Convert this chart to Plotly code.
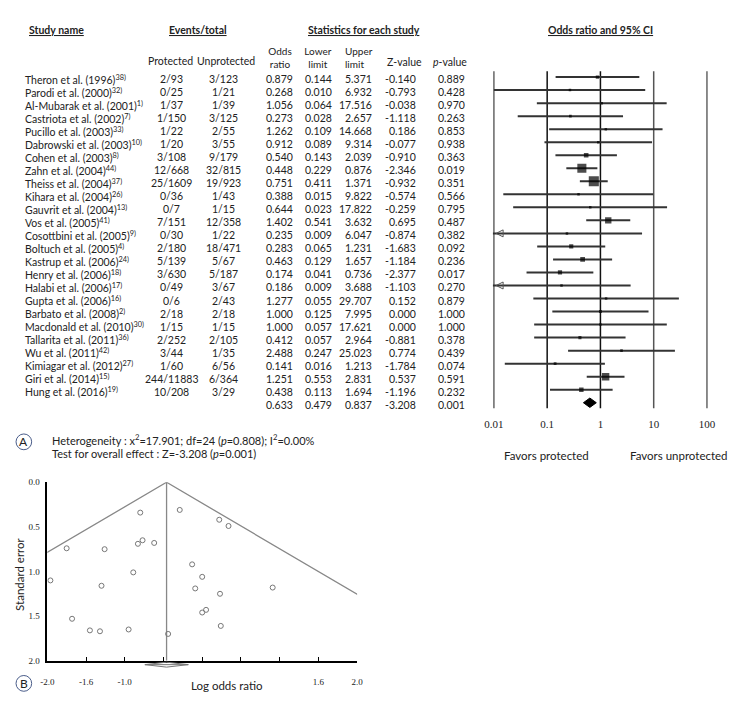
import math
import plotly.graph_objects as go

W, H = 748, 707
OFF = 8  # page body margin, positions below are in page pixels

studies = [
    "Theron et al. (1996)", "Parodi et al. (2000)", "Al-Mubarak et al. (2001)",
    "Castriota et al. (2002)", "Pucillo et al. (2003)", "Dabrowski et al. (2003)",
    "Cohen et al. (2003)", "Zahn et al. (2004)", "Theiss et al. (2004)",
    "Kihara et al. (2004)", "Gauvrit et al. (2004)", "Vos et al. (2005)",
    "Cosottbini et al. (2005)", "Boltuch et al. (2005)", "Kastrup et al. (2006)",
    "Henry et al. (2006)", "Halabi et al. (2006)", "Gupta et al. (2006)",
    "Barbato et al. (2008)", "Macdonald et al. (2010)", "Tallarita et al. (2011)",
    "Wu et al. (2011)", "Kimiagar et al. (2012)", "Giri et al. (2014)",
    "Hung et al. (2016)",
]
refs = ["38)", "32)", "1)", "7)", "33)", "10)", "8)", "44)", "37)", "26)", "13)", "41)", "9)",
        "4)", "24)", "18)", "17)", "16)", "2)", "30)", "36)", "42)", "27)", "15)", "19)"]

prot_events = [2, 0, 1, 1, 1, 1, 3, 12, 25, 0, 0, 7, 0, 2, 5, 3, 0, 0, 2, 1, 2, 3, 1, 244, 10]
prot_total = [93, 25, 37, 150, 22, 20, 108, 668, 1609, 36, 7, 151, 30, 180, 139, 630, 49, 6,
              18, 15, 252, 44, 60, 11883, 208]
unprot_events = [3, 1, 1, 3, 2, 3, 9, 32, 19, 1, 1, 12, 1, 18, 5, 5, 3, 2, 2, 1, 2, 1, 6, 6, 3]
unprot_total = [123, 21, 39, 125, 55, 55, 179, 815, 923, 43, 15, 358, 22, 471, 67, 187, 67, 43,
                18, 15, 105, 35, 56, 364, 29]

odds_ratio = [0.879, 0.268, 1.056, 0.273, 1.262, 0.912, 0.540, 0.448, 0.751, 0.388, 0.644, 1.402,
              0.235, 0.283, 0.463, 0.174, 0.186, 1.277, 1.000, 1.000, 0.412, 2.488, 0.141, 1.251, 0.438]
lower = [0.144, 0.010, 0.064, 0.028, 0.109, 0.089, 0.143, 0.229, 0.411, 0.015, 0.023, 0.541,
         0.009, 0.065, 0.129, 0.041, 0.009, 0.055, 0.125, 0.057, 0.057, 0.247, 0.016, 0.553, 0.113]
upper = [5.371, 6.932, 17.516, 2.657, 14.668, 9.314, 2.039, 0.876, 1.371, 9.822, 17.822, 3.632,
         6.047, 1.231, 1.657, 0.736, 3.688, 29.707, 7.995, 17.621, 2.964, 25.023, 1.213, 2.831, 1.694]
z_value = [-0.140, -0.793, -0.038, -1.118, 0.186, -0.077, -0.910, -2.346, -0.932, -0.574, -0.259,
           0.695, -0.874, -1.683, -1.184, -2.377, -1.103, 0.152, 0.000, 0.000, -0.881, 0.774,
           -1.784, 0.537, -1.196]
p_value = [0.889, 0.428, 0.970, 0.263, 0.853, 0.938, 0.363, 0.019, 0.351, 0.566, 0.795, 0.487,
           0.382, 0.092, 0.236, 0.017, 0.270, 0.879, 1.000, 1.000, 0.378, 0.439, 0.074, 0.591, 0.232]

pooled_or, pooled_lower, pooled_upper = 0.633, 0.479, 0.837
pooled_z, pooled_p = -3.208, 0.001

forest_ticks = [0.01, 0.1, 1, 10, 100]
forest_tick_text = ["0.01", "0.1", "1", "10", "100"]

# funnel plot (log odds ratio vs standard error)
funnel_log_or = [-0.13, -1.32, 0.05, -1.30, 0.23, -0.09, -0.62, -0.80, -0.29, -0.95, -0.44, 0.34,
                 -1.45, -1.26, -0.77, -1.75, -1.68, 0.24, 0.00, 0.00, -0.89, 0.91, -1.96, 0.22, -0.83]
funnel_se = [0.92, 1.67, 1.43, 1.16, 1.25, 1.19, 0.68, 0.34, 0.31, 1.65, 1.70, 0.49, 1.66, 0.75,
             0.65, 0.74, 1.53, 1.61, 1.06, 1.46, 1.01, 1.18, 1.10, 0.42, 0.69]
funnel_mean, funnel_lo, funnel_hi = -0.46, -0.74, -0.18
funnel_xticks = [-2.0, -1.5, -1.0, -0.5, 0.0, 0.5, 1.0, 1.5, 2.0]
funnel_xtick_text = ["-2.0", "-1.6", "-1.0", " ", " ", " ", " ", "1.6", "2.0"]
funnel_yticks = [0.0, 0.5, 1.0, 1.5, 2.0]
funnel_ytick_text = ["0.0", "0.5", "1.0", "1.5", "2.0"]

SANS = "Lato"
SERIF = "Liberation Serif"
TXT = "#222"
FS = 10.5


def px(x):
    return (x - OFF) / W


def py(y):
    return 1 - (y - OFF) / H


fig = go.Figure()

n = len(studies)
pooled_row = n

# confidence interval lines
ci_x, ci_y = [], []
for i, (lo, hi) in enumerate(zip(lower, upper)):
    ci_x += [lo, hi, None]
    ci_y += [i, i, None]
fig.add_trace(go.Scatter(x=ci_x, y=ci_y, mode="lines", line=dict(color="#333", width=2),
                         hoverinfo="skip", xaxis="x", yaxis="y"))

# study squares, side proportional to precision
sizes = []
for lo, hi in zip(lower, upper):
    se = (math.log(hi) - math.log(lo)) / 3.92
    sizes.append(max(2.5, 3.1 / se))
fig.add_trace(go.Scatter(x=odds_ratio, y=list(range(n)), mode="markers",
                         marker=dict(symbol="square", size=sizes, color="black", line=dict(width=0)),
                         xaxis="x", yaxis="y"))

# arrows for intervals running past the axis
axis_min = forest_ticks[0]
arrow_rows = [i for i, lo in enumerate(lower) if lo < axis_min]
fig.add_trace(go.Scatter(x=[axis_min * 1.1] * len(arrow_rows), y=arrow_rows, mode="markers",
                         marker=dict(symbol="arrow-left-open", size=7, color="#555",
                                     line=dict(width=1, color="#555")),
                         cliponaxis=False, xaxis="x", yaxis="y"))

# pooled diamond
dh = 0.36
fig.add_trace(go.Scatter(
    x=[pooled_lower, pooled_or, pooled_upper, pooled_or, pooled_lower],
    y=[pooled_row, pooled_row - dh, pooled_row, pooled_row + dh, pooled_row],
    mode="lines", fill="toself", fillcolor="black", line=dict(color="black", width=1),
    xaxis="x", yaxis="y"))

# funnel limits and mean line
fig.add_trace(go.Scatter(
    x=[funnel_mean - 1.96 * 2, funnel_mean, funnel_mean + 1.96 * 2],
    y=[2, 0, 2], mode="lines", line=dict(color="#888", width=1.3), xaxis="x2", yaxis="y2"))
fig.add_trace(go.Scatter(x=[funnel_mean, funnel_mean], y=[0, 2], mode="lines",
                         line=dict(color="#888", width=1.3), xaxis="x2", yaxis="y2"))
fig.add_trace(go.Scatter(x=funnel_log_or, y=funnel_se, mode="markers",
                         marker=dict(symbol="circle-open", size=5, color="#777", line=dict(width=1)),
                         xaxis="x2", yaxis="y2"))

shapes = []
grid_colors = ["#666", "#111", "#111", "#555", "#666"]
for v, c in zip(forest_ticks, grid_colors):
    shapes.append(dict(type="line", xref="x", yref="y domain", x0=v, x1=v, y0=0, y1=1,
                       line=dict(color=c, width=1.5), layer="below"))

# funnel summary diamond below the axis
yc, yh = py(669), 2.5 / H
shapes.append(dict(type="path", xref="x2", yref="paper",
                   path=f"M {funnel_lo},{yc} L {funnel_mean},{yc + yh} L {funnel_hi},{yc} "
                        f"L {funnel_mean},{yc - yh} Z",
                   line=dict(color="#777", width=1)))
shapes.append(dict(type="line", xref="x2", yref="paper", x0=funnel_lo, x1=funnel_hi, y0=yc, y1=yc,
                   line=dict(color="#777", width=1)))

# circled panel letters
for cx, cy in [(15, 443), (15, 688)]:
    shapes.append(dict(type="circle", xref="paper", yref="paper",
                       x0=px(cx - 8), x1=px(cx + 8), y0=py(cy + 8), y1=py(cy - 8),
                       line=dict(color="#4a5d8a", width=1)))

ann = []


def note(text, x, y, xanchor="center", size=FS, yref="paper", family=SANS, yshift=0, **kw):
    ann.append(dict(text=text, x=x, y=y, xref="paper", yref=yref, xanchor=xanchor,
                    yanchor="middle", showarrow=False, yshift=yshift,
                    font=dict(family=family, size=size, color=TXT), **kw))


# headers
note("<b><u>Study name</u></b>", px(18), py(25), "left")
note("<b><u>Events/total</u></b>", px(193), py(25))
note("<b><u>Statistics for each study</u></b>", px(363), py(25))
note("<b><u>Odds ratio and 95% CI</u></b>", px(605), py(25))
note("Protected", px(165), py(57))
note("Unprotected", px(222), py(57))
note("Odds<br>ratio", px(277), py(53), size=10, width=34, align="center")
note("Lower<br>limit", px(316), py(53), size=10, width=34, align="center")
note("Upper<br>limit", px(342), py(53), "left", size=10, width=34, align="left")
note("Z-value", px(404), py(58))
note("<i>p</i>-value", px(451), py(58))

# table rows
for i in range(n):
    note(f"{studies[i]}<sup>{refs[i]}</sup>", px(14), i, "left", yref="y", yshift=-2)
    note(f"{prot_events[i]}/{prot_total[i]}", px(166), i, yref="y", yshift=-2)
    note(f"{unprot_events[i]}/{unprot_total[i]}", px(219), i, yref="y", yshift=-2)
    note(f"{odds_ratio[i]:.3f}", px(277), i, yref="y", yshift=-2)
    note(f"{lower[i]:.3f}", px(316), i, yref="y", yshift=-2)
    note(f"{upper[i]:.3f}", px(373), i, "right", yref="y", yshift=-2)
    note(f"{z_value[i]:.3f}", px(418), i, "right", yref="y", yshift=-2)
    note(f"{p_value[i]:.3f}", px(453), i, yref="y", yshift=-2)

note(f"{pooled_or:.3f}", px(277), pooled_row, yref="y", yshift=-2)
note(f"{pooled_lower:.3f}", px(316), pooled_row, yref="y", yshift=-2)
note(f"{pooled_upper:.3f}", px(373), pooled_row, "right", yref="y", yshift=-2)
note(f"{pooled_z:.3f}", px(418), pooled_row, "right", yref="y", yshift=-2)
note(f"{pooled_p:.3f}", px(453), pooled_row, yref="y", yshift=-2)

note("Favors protected", px(550), py(457), size=11.5)
note("Favors unprotected", px(685), py(457), size=11.5)

note("A", px(15), py(443), size=12)
note("Heterogeneity : x<sup>2</sup>=17.901; df=24 (<i>p</i>=0.808); I<sup>2</sup>=0.00%",
     px(42), py(441), "left", size=11)
note("Test for overall effect : Z=-3.208 (<i>p</i>=0.001)", px(42), py(455), "left", size=11)

note("B", px(15), py(688), size=12)
note("Standard error", px(11), py(577), size=11.5, textangle=-90)
note("Log odds ratio", px(223), py(690), size=11.5)

pad = 1 / 54.5
row_top, row_bottom = -0.454, 25.43
fig.update_layout(
    width=W, height=H,
    margin=dict(l=0, r=0, t=0, b=0),
    paper_bgcolor="white", plot_bgcolor="white",
    showlegend=False,
    shapes=shapes,
    annotations=ann,
    xaxis=dict(domain=[px(495), px(715)], type="log", range=[-2 - pad, 2 + pad], autorange=False,
               tickvals=forest_ticks, ticktext=forest_tick_text, showgrid=False, zeroline=False,
               showline=False, ticks="", ticklabelstandoff=8,
               tickfont=dict(family=SERIF, size=11, color=TXT), anchor="y"),
    yaxis=dict(domain=[py(409), py(67)], range=[row_bottom, row_top], autorange=False,
               showticklabels=False, showgrid=False, zeroline=False, showline=False, ticks="",
               anchor="x"),
    xaxis2=dict(domain=[px(39), px(356)], range=[-2, 2], autorange=False, tickvals=funnel_xticks,
                ticktext=funnel_xtick_text, showgrid=False, zeroline=False, showline=True,
                linecolor="black", linewidth=1.5, ticks="inside", ticklen=4, tickcolor="black",
                ticklabelstandoff=12, tickfont=dict(family=SERIF, size=9, color=TXT), anchor="y2"),
    yaxis2=dict(domain=[py(665), py(484)], range=[2, 0], autorange=False, tickvals=funnel_yticks,
                ticktext=funnel_ytick_text, showgrid=False, zeroline=False, showline=True,
                linecolor="black", linewidth=1.5, ticks="", ticklabelstandoff=4,
                tickfont=dict(family=SERIF, size=9, color=TXT), anchor="x2"),
)

fig.write_html("out.html")
